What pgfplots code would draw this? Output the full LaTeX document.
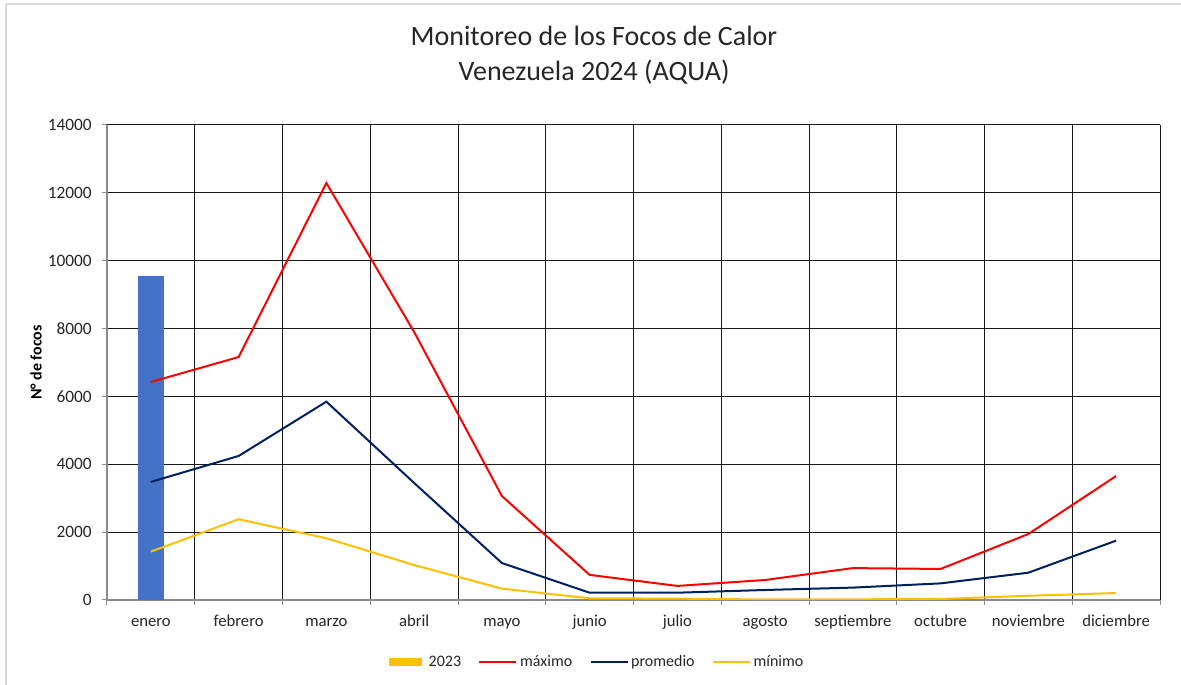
\documentclass[border=0pt]{standalone}
\usepackage{pgfplots}
\pgfplotsset{compat=1.18}
\usepackage{fontspec}
\setmainfont{Carlito}
\definecolor{barblue}{HTML}{4472C4}
\definecolor{maxred}{HTML}{FF0000}
\definecolor{navy}{HTML}{002060}
\definecolor{gold}{HTML}{FFC000}
\definecolor{txt}{HTML}{262626}
\begin{document}
\begin{tikzpicture}[x=0.75pt,y=0.75pt]
\useasboundingbox (-107,-85) rectangle (1074,600);
\draw[gray!30, line width=1.5pt] (-101,596) -- (1080,596);
\draw[gray!30, line width=1.5pt] (-101,596) -- (-101,-95);
\begin{axis}[
  at={(0,0)}, anchor=south west,
  scale only axis, width=789.75pt, height=356.25pt,
  xmin=-0.5, xmax=11.5, ymin=0, ymax=14000,
  axis x line*=bottom, axis y line*=left,
  axis line style={black!45, line width=1pt},
  xtick={0,...,11},
  xticklabels={enero,febrero,marzo,abril,mayo,junio,julio,agosto,septiembre,octubre,noviembre,diciembre},
  minor xtick={-0.5,0.5,...,11.5},
  ytick={0,2000,...,14000},
  xminorgrids, ymajorgrids,
  minor grid style={black!90, line width=0.75pt},
  major grid style={black!90, line width=0.75pt},
  major x tick style={draw=none},
  minor x tick style={black!45, line width=0.75pt},
  major y tick style={black!45, line width=0.75pt},
  tick align=outside,
  major tick length=3.75pt, minor tick length=3.75pt,
  scaled y ticks=false,
  /pgf/number format/1000 sep={},
  /pgf/number format/assume math mode=true,
  xticklabel style={font=\fontsize{12.5}{14}\selectfont, text=txt, anchor=base, inner sep=0pt, yshift=-16pt},
  yticklabel style={font=\fontsize{13}{15}\selectfont, text=txt, anchor=east, inner sep=0pt, xshift=-7.5pt},
  legend image code/.code={\draw[#1] (0pt,0pt) -- (27.75pt,0pt);},
  legend style={at={(axis description cs:0.466,0)}, anchor=center, yshift=-46.5pt,
    draw=none, fill=none, font=\fontsize{12}{14}\selectfont, text=txt,
    /tikz/every even column/.append style={column sep=11pt},
    inner sep=0pt},
  legend columns=4,
]
\addplot[ybar, bar width=19.5pt, fill=barblue, draw=none,
  legend image code/.code={\fill[gold] (0pt,-3pt) rectangle (24.5pt,3pt); \path (27.5pt,0pt);}]
  coordinates {(0,9550)};
\addlegendentry{2023}
\addplot[maxred, line width=1.5pt] coordinates {
  (0,6425) (1,7160) (2,12290) (3,7900) (4,3065) (5,740)
  (6,415) (7,590) (8,940) (9,915) (10,1945) (11,3655)};
\addlegendentry{máximo}
\addplot[navy, line width=1.5pt] coordinates {
  (0,3480) (1,4245) (2,5845) (3,3450) (4,1090) (5,215)
  (6,215) (7,295) (8,365) (9,490) (10,805) (11,1750)};
\addlegendentry{promedio}
\addplot[gold, line width=1.5pt] coordinates {
  (0,1425) (1,2380) (2,1820) (3,1030) (4,335) (5,50)
  (6,40) (7,15) (8,20) (9,30) (10,125) (11,205)};
\addlegendentry{mínimo}
\end{axis}
\node[align=center, font=\fontsize{21}{26.25}\selectfont, text=txt] at (487,545)
  {Monitoreo de los Focos de Calor\\Venezuela 2024 (AQUA)};
\node[rotate=90, font=\bfseries\fontsize{12}{14}\selectfont] at (-71,237.5) {N° de focos};
\end{tikzpicture}
\end{document}
